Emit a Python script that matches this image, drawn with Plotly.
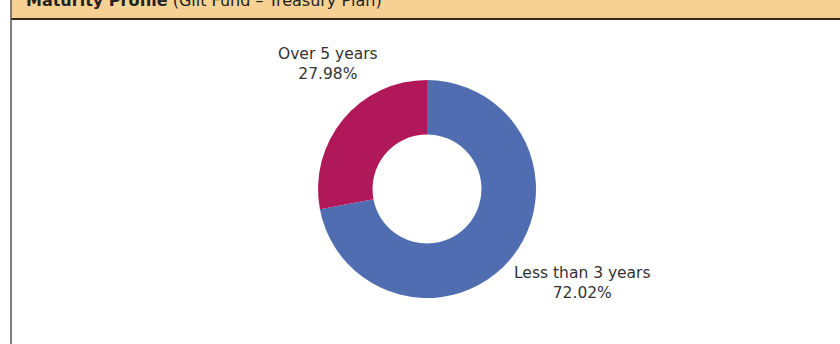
import plotly.graph_objects as go

# Maturity profile data
labels = ["Less than 3 years", "Over 5 years"]
values = [72.02, 27.98]
colors = ["#4F6DB0", "#B0185A"]

W, H = 840, 344
FONT = "DejaVu Sans"

# donut geometry in pixels (centre and outer radius)
cx, cy, r = 427, 189, 109

fig = go.Figure(
    go.Pie(
        labels=labels,
        values=values,
        hole=0.5,
        sort=False,
        direction="clockwise",
        rotation=0,
        marker=dict(colors=colors, line=dict(width=0)),
        textinfo="none",
        hoverinfo="label+percent",
        showlegend=False,
        domain=dict(
            x=[(cx - r) / W, (cx + r) / W],
            y=[(H - cy - r) / H, (H - cy + r) / H],
        ),
    )
)

def px(x, y):
    return x / W, 1 - y / H

# slice labels placed beside the ring
label_pos = {"Over 5 years": (328, 64), "Less than 3 years": (582, 283)}
annotations = []
for lab, val in zip(labels, values):
    x, y = px(*label_pos[lab])
    annotations.append(dict(
        x=x, y=y, xref="paper", yref="paper",
        text=f"{lab}<br>{val:.2f}%", showarrow=False,
        xanchor="center", yanchor="middle", align="center",
        font=dict(family=FONT, size=15.5, color="#333333"),
    ))

# header title
tx, ty = px(24, 0)
annotations.append(dict(
    x=tx, y=ty, xref="paper", yref="paper",
    text="<b>Maturity Profile</b> (Gilt Fund – Treasury Plan)",
    showarrow=False, xanchor="left", yanchor="middle",
    font=dict(family=FONT, size=16, color="#222222"),
))

shapes = [
    # header band
    dict(type="rect", xref="paper", yref="paper",
         x0=11 / W, x1=1, y0=1 - 18 / H, y1=1,
         fillcolor="#F6D193", line=dict(width=0), layer="below"),
    # header bottom rule
    dict(type="line", xref="paper", yref="paper",
         x0=11 / W, x1=1, y0=1 - 19 / H, y1=1 - 19 / H,
         line=dict(color="#33291c", width=2)),
    # left frame edge
    dict(type="line", xref="paper", yref="paper",
         x0=11 / W, x1=11 / W, y0=0, y1=1,
         line=dict(color="#555555", width=1.5)),
]

fig.update_layout(
    width=W, height=H,
    margin=dict(l=0, r=0, t=0, b=0),
    paper_bgcolor="white", plot_bgcolor="white",
    annotations=annotations, shapes=shapes,
)

fig.write_html("out.html")
